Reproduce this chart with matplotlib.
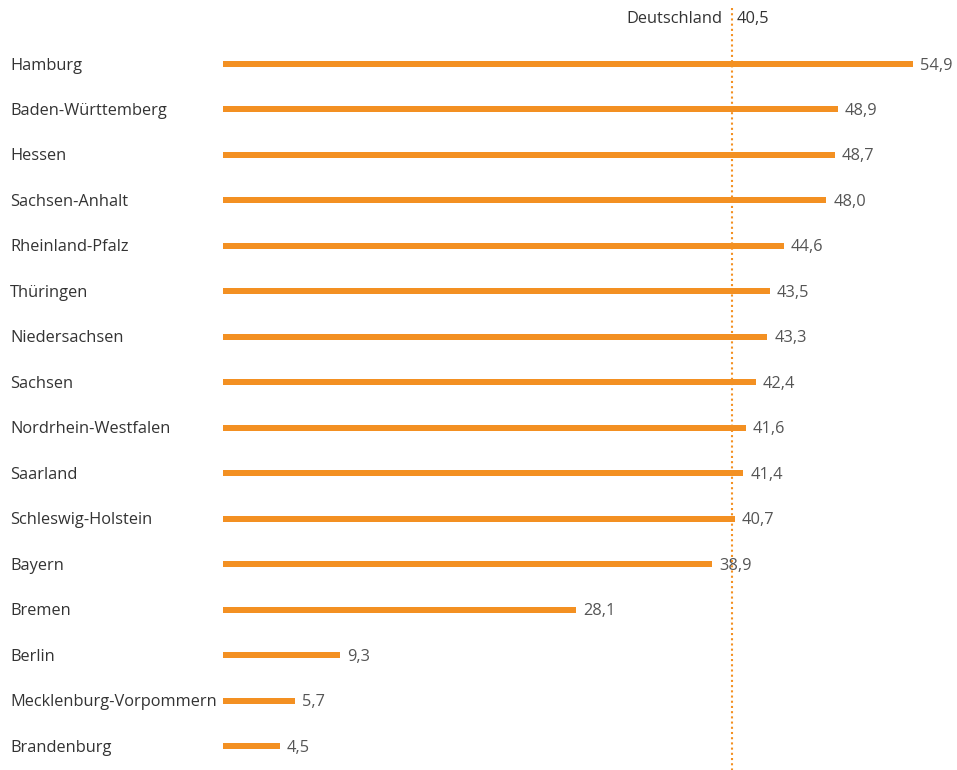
import numpy as np
import matplotlib.pyplot as plt
from matplotlib.transforms import blended_transform_factory

# Daten
laender = ['Hamburg', 'Baden-Württemberg', 'Hessen', 'Sachsen-Anhalt',
           'Rheinland-Pfalz', 'Thüringen', 'Niedersachsen', 'Sachsen',
           'Nordrhein-Westfalen', 'Saarland', 'Schleswig-Holstein', 'Bayern',
           'Bremen', 'Berlin', 'Mecklenburg-Vorpommern', 'Brandenburg']
werte = [54.9, 48.9, 48.7, 48.0, 44.6, 43.5, 43.3, 42.4,
         41.6, 41.4, 40.7, 38.9, 28.1, 9.3, 5.7, 4.5]
deutschland = 40.5

orange = '#F39022'
plt.rcParams['font.family'] = ['Open Sans', 'DejaVu Sans']

W, H = 957, 770
fig = plt.figure(figsize=(W / 100, H / 100), dpi=100)
x0 = 223
ax = fig.add_axes([x0 / W, 0, (W - x0) / W, 1])

px_per_unit = (913 - x0) / 54.9
row_top, row_gap = 64, (746 - 64) / 15
ax.set_xlim(0, (W - x0) / px_per_unit)
ax.set_ylim((H - row_top) / row_gap, -row_top / row_gap)
ax.axis('off')

y = np.arange(len(laender))
ax.barh(y, werte, height=6 / row_gap, color=orange, left=0)

fs = 11.8
dy = 1.5 / row_gap  # Text minimal tiefer setzen
trans = blended_transform_factory(fig.transFigure, ax.transData)
for yi, name, v in zip(y, laender, werte):
    ax.text(10 / W, yi + dy, name, transform=trans, ha='left', va='center',
            fontsize=fs, color='#333333')
    ax.text(v + 7 / px_per_unit, yi + dy, f'{v:.1f}'.replace('.', ','),
            ha='left', va='center', fontsize=fs, color='#555555')

# Deutschland-Linie
y_line_top = (8 - row_top) / row_gap
ax.plot([deutschland, deutschland], [y_line_top, (H - row_top) / row_gap],
        color=orange, linestyle=(0, (1, 1.5)), linewidth=1.5)
y_lab = (19 - row_top) / row_gap
ax.text(deutschland - 10 / px_per_unit, y_lab, 'Deutschland', ha='right',
        va='center', fontsize=fs, color='#333333')
ax.text(deutschland + 5 / px_per_unit, y_lab, '40,5', ha='left',
        va='center', fontsize=fs, color='#333333')

fig.savefig('out.png', dpi=100)
